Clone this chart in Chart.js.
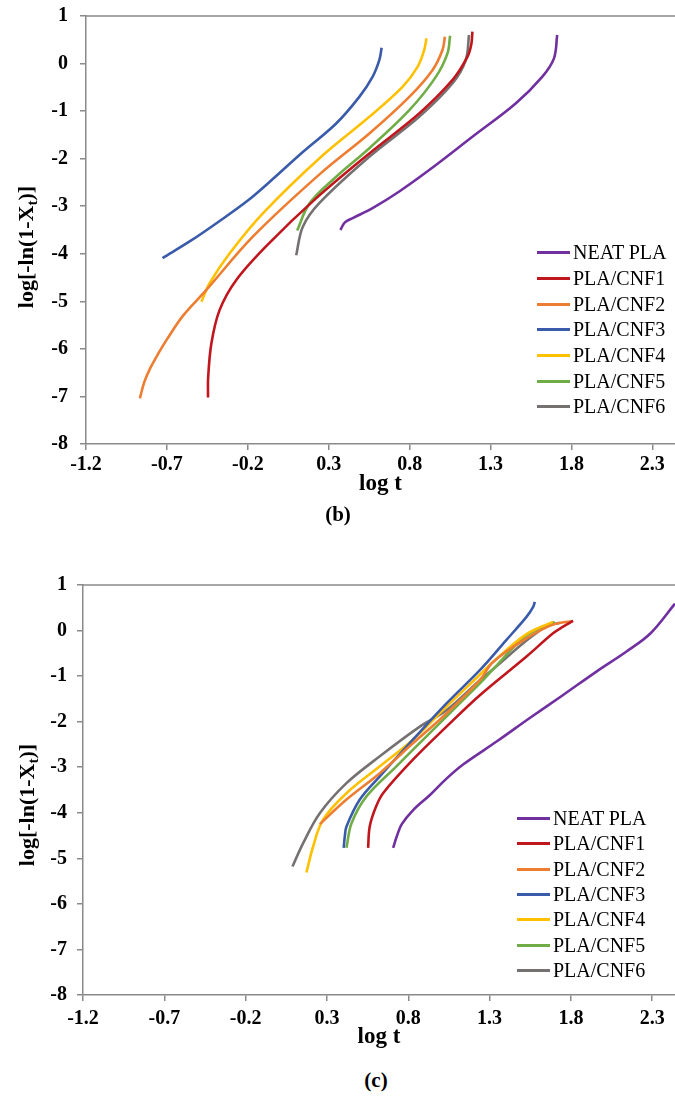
<!DOCTYPE html>
<html>
<head>
<meta charset="utf-8">
<script src="https://cdn.jsdelivr.net/npm/chart.js@4.4.1/dist/chart.umd.min.js"></script>
<style>
  body { margin: 0; background: #fff; }
  #page { position: relative; width: 675px; height: 1117px; overflow: hidden; font-family: "Liberation Serif", "Times New Roman", serif; }
  canvas { position: absolute; left: 0; }
  .legend { position: absolute; font-size: 20px; color: #000; }
  .legend div { display: flex; align-items: center; white-space: nowrap; }
  .legend span.ln { display: inline-block; width: 33px; height: 3px; margin-right: 3px; }
  .cap { position: absolute; font-weight: bold; font-size: 21px; transform: translate(-50%, -50%); }
</style>
</head>
<body>
<div id="page">
  <canvas id="chartB" width="675" height="540" style="top:0"></canvas>
  <canvas id="chartC" width="675" height="500" style="top:560px"></canvas>
  <div class="legend" id="legendB" style="left:537px; top:240px"></div>
  <div class="legend" id="legendC" style="left:517px; top:806px"></div>
  <div class="cap" style="left:338px; top:514px">(b)</div>
  <div class="cap" style="left:376px; top:1080px">(c)</div>
</div>
<script>
/* Series names and colours */
const names = ["NEAT PLA", "PLA/CNF1", "PLA/CNF2", "PLA/CNF3", "PLA/CNF4", "PLA/CNF5", "PLA/CNF6"];
const colors = ["#7030A0", "#C0161D", "#ED7D31", "#3A5BA9", "#FFC000", "#70AD47", "#767171"];

/* Axis ticks */
const xTicks = [-1.2, -0.7, -0.2, 0.3, 0.8, 1.3, 1.8, 2.3];
const yTicks = [-8, -7, -6, -5, -4, -3, -2, -1, 0, 1];

/* (b) curves: [log t, log[-ln(1-Xt)]] */
const b_neat = [[0.372,-3.50],[0.40,-3.34],[0.448,-3.25],[0.571,-3.04],[0.736,-2.69],[0.921,-2.24],[1.188,-1.54],[1.455,-0.84],[1.619,-0.28],[1.692,0.11],[1.712,0.60]];
const b_cnf1 = [[-0.446,-7.02],[-0.445,-6.6],[-0.425,-5.88],[-0.374,-5.18],[-0.271,-4.55],[-0.066,-3.77],[0.22,-2.84],[0.551,-1.89],[0.859,-1.05],[1.064,-0.35],[1.157,0.14],[1.181,0.40],[1.188,0.67]];
const b_cnf2 = [[-0.867,-7.04],[-0.84,-6.70],[-0.805,-6.42],[-0.75,-6.08],[-0.70,-5.80],[-0.60,-5.30],[-0.456,-4.76],[-0.169,-3.64],[0.243,-2.33],[0.551,-1.47],[0.798,-0.70],[0.941,-0.14],[1.003,0.285],[1.018,0.565]];
const b_cnf3 = [[-0.727,-4.09],[-0.55,-3.72],[-0.374,-3.31],[-0.20,-2.88],[-0.066,-2.49],[0.140,-1.86],[0.346,-1.26],[0.489,-0.70],[0.571,-0.28],[0.613,0.075],[0.627,0.334]];
const b_cnf4 = [[-0.487,-5.01],[-0.436,-4.62],[-0.312,-3.99],[-0.107,-3.15],[0.243,-1.99],[0.551,-1.12],[0.756,-0.49],[0.849,-0.07],[0.890,0.285],[0.904,0.53]];
const b_cnf5 = [[0.105,-3.51],[0.181,-2.94],[0.346,-2.38],[0.551,-1.78],[0.798,-0.98],[0.962,-0.28],[1.034,0.215],[1.050,0.586]];
const b_cnf6 = [[0.099,-4.03],[0.140,-3.43],[0.243,-2.93],[0.551,-1.96],[0.859,-1.12],[1.064,-0.42],[1.147,0.075],[1.167,0.60]];

/* (c) curves */
const c_neat = [[0.707,-4.77],[0.73,-4.51],[0.76,-4.25],[0.83,-3.94],[0.93,-3.62],[1.035,-3.25],[1.137,-2.94],[1.35,-2.42],[1.547,-1.92],[1.75,-1.42],[1.957,-0.90],[2.142,-0.46],[2.29,-0.06],[2.44,0.59]];
const c_cnf1 = [[0.553,-4.77],[0.563,-4.30],[0.60,-3.88],[0.645,-3.57],[0.830,-2.83],[1.035,-2.11],[1.24,-1.42],[1.527,-0.57],[1.69,-0.06],[1.752,0.085],[1.813,0.21]];
const c_cnf2 = [[0.256,-4.25],[0.420,-3.71],[0.625,-3.13],[0.830,-2.47],[1.035,-1.82],[1.24,-1.09],[1.321,-0.69],[1.527,-0.17],[1.69,0.13],[1.813,0.21]];
const c_cnf3 = [[0.403,-4.77],[0.41,-4.51],[0.420,-4.30],[0.502,-3.71],[0.625,-3.20],[0.830,-2.39],[1.035,-1.60],[1.24,-0.87],[1.40,-0.22],[1.527,0.30],[1.568,0.52],[1.578,0.63]];
const c_cnf4 = [[0.174,-5.31],[0.215,-4.74],[0.276,-4.15],[0.420,-3.57],[0.625,-2.98],[0.830,-2.39],[1.035,-1.67],[1.24,-0.97],[1.321,-0.69],[1.527,-0.08],[1.69,0.19]];
const c_cnf5 = [[0.42,-4.77],[0.451,-4.23],[0.543,-3.64],[0.727,-2.98],[0.932,-2.25],[1.24,-1.16],[1.321,-0.85],[1.527,-0.11],[1.70,0.19]];
const c_cnf6 = [[0.088,-5.18],[0.153,-4.67],[0.256,-4.01],[0.420,-3.35],[0.625,-2.76],[0.871,-2.11],[1.035,-1.75],[1.24,-1.09],[1.321,-0.85],[1.527,-0.22],[1.65,0.095],[1.732,0.17]];

const seriesB = [b_neat, b_cnf1, b_cnf2, b_cnf3, b_cnf4, b_cnf5, b_cnf6];
const seriesC = [c_neat, c_cnf1, c_cnf2, c_cnf3, c_cnf4, c_cnf5, c_cnf6];

const axisColor = "#8a8a8a";
const serif = '"Liberation Serif", "Times New Roman", serif';

/* y-axis title with subscript t, plus the top frame line */
const frameTitle = {
  id: "frameTitle",
  afterDraw(chart, args, opts) {
    const ctx = chart.ctx;
    const { top, bottom, left, right } = chart.chartArea;
    ctx.save();
    ctx.strokeStyle = axisColor;
    ctx.lineWidth = 1.5;
    ctx.beginPath();
    ctx.moveTo(left, top);
    ctx.lineTo(right, top);
    ctx.stroke();

    const big = "bold 22px " + serif, small = "bold 15px " + serif;
    const p1 = "log[-ln(1-X", p2 = "t", p3 = ")]";
    ctx.font = big;
    const w1 = ctx.measureText(p1).width, w3 = ctx.measureText(p3).width;
    ctx.font = small;
    const w2 = ctx.measureText(p2).width;
    ctx.translate(opts.x, (top + bottom) / 2 + opts.shift);
    ctx.rotate(-Math.PI / 2);
    ctx.fillStyle = "#000";
    ctx.textBaseline = "middle";
    let pos = -(w1 + w2 + w3) / 2;
    ctx.font = big; ctx.fillText(p1, pos, 0); pos += w1;
    ctx.font = small; ctx.fillText(p2, pos, 6); pos += w2;
    ctx.font = big; ctx.fillText(p3, pos, 0);
    ctx.restore();
  }
};

function makeChart(id, series, g) {
  const datasets = series.map((pts, i) => ({
    label: names[i],
    data: pts.map(p => ({ x: p[0], y: p[1] })),
    borderColor: colors[i],
    borderWidth: 2.6,
    pointRadius: 0,
    showLine: true,
    tension: 0.35,
    fill: false
  }));

  return new Chart(document.getElementById(id), {
    type: "scatter",
    data: { datasets },
    options: {
      responsive: false,
      animation: false,
      layout: { padding: { top: g.top, left: 0, right: 0, bottom: 0 } },
      plugins: {
        legend: { display: false },
        tooltip: { enabled: false },
        frameTitle: { x: g.titleX, shift: g.titleShift }
      },
      scales: {
        x: {
          type: "linear",
          min: -1.2,
          max: 2.44,
          afterBuildTicks: s => { s.ticks = xTicks.map(v => ({ value: v })); },
          afterFit: s => { s.height = g.xHeight; s.paddingLeft = 0; s.paddingRight = 0; },
          ticks: {
            color: "#000",
            padding: g.xPad,
            maxRotation: 0,
            font: { family: serif, size: 20, weight: "bold" },
            callback: v => v.toFixed(1)
          },
          grid: { display: true, drawOnChartArea: false, drawTicks: true, tickLength: 6, color: axisColor, lineWidth: 1.5 },
          border: { display: true, color: axisColor, width: 1.5 },
          title: {
            display: true,
            text: "log t",
            color: "#000",
            font: { family: serif, size: 23, weight: "bold" },
            padding: { top: 0, bottom: g.xTitlePad }
          }
        },
        y: {
          type: "linear",
          min: -8,
          max: 1,
          afterBuildTicks: s => { s.ticks = yTicks.map(v => ({ value: v })); },
          afterFit: s => { s.width = g.yWidth; s.paddingTop = 0; s.paddingBottom = 0; },
          ticks: {
            color: "#000",
            padding: g.yPad,
            font: { family: serif, size: 20, weight: "bold" },
            callback: v => String(v)
          },
          grid: { display: true, drawOnChartArea: false, drawTicks: true, tickLength: 6, color: axisColor, lineWidth: 1.5 },
          border: { display: true, color: axisColor, width: 1.5 }
        }
      }
    },
    plugins: [frameTitle]
  });
}

function makeLegend(id, rowH) {
  const box = document.getElementById(id);
  names.forEach((n, i) => {
    const row = document.createElement("div");
    row.style.height = rowH + "px";
    row.innerHTML = `<span class="ln" style="background:${colors[i]}"></span>${n}`;
    box.appendChild(row);
  });
}

makeChart("chartB", seriesB, { top: 16, xHeight: 96, xTitlePad: 42, xPad: 3, yWidth: 86, yPad: 12, titleX: 27, titleShift: 17 });
makeChart("chartC", seriesC, { top: 25, xHeight: 65, xTitlePad: 9, xPad: 6, yWidth: 83, yPad: 10, titleX: 28, titleShift: 15 });
makeLegend("legendB", 25.7);
makeLegend("legendC", 25.3);
</script>
</body>
</html>
